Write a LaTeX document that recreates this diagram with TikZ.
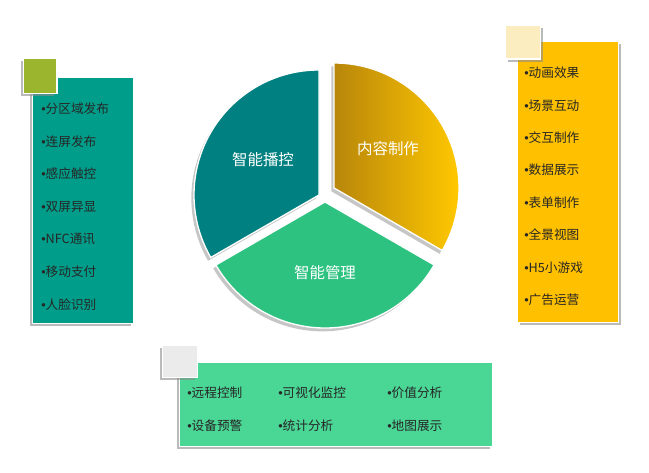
\documentclass[tikz,border=0pt]{standalone}
\usepackage{fontspec}
\setmainfont{Noto Sans CJK SC}
\newfontfamily\latinfont{Liberation Sans}
\newcommand{\bul}{{\latinfont •}}
\usetikzlibrary{positioning, shadows}

\definecolor{tealbox}{RGB}{0,158,138}
\definecolor{olivetag}{RGB}{155,181,47}
\definecolor{goldbox}{RGB}{255,192,0}
\definecolor{creamtag}{RGB}{252,237,192}
\definecolor{mintbox}{RGB}{74,214,149}
\definecolor{greytag}{RGB}{235,235,235}
\definecolor{tealpie}{RGB}{0,128,128}
\definecolor{greenpie}{RGB}{45,194,128}
\definecolor{golddark}{RGB}{184,134,11}
\definecolor{goldlight}{RGB}{255,200,0}

\begin{document}
\begin{tikzpicture}[x=0.75pt, y=0.75pt]
    \tikzstyle{panel}=[draw=white, line width=1pt, rectangle, inner sep=0pt, anchor=north west]
    \tikzstyle{shadowleft}=[drop shadow={shadow xshift=-2pt, shadow yshift=-2pt, fill=black!45, opacity=.6}]
    \tikzstyle{shadowright}=[drop shadow={shadow xshift=2pt, shadow yshift=-2pt, fill=black!45, opacity=.6}]
    \tikzstyle{sector}=[draw=white, line width=1pt, drop shadow={shadow xshift=-2pt, shadow yshift=-2.5pt, fill=black!50, opacity=.45}]
    \tikzstyle{item}=[inner sep=0pt, anchor=west, text=black!85, font=\fontsize{9.5}{11}\selectfont]
    \tikzstyle{label}=[text=white, font=\fontsize{11.6}{14}\selectfont]

    \useasboundingbox (0,0) rectangle (649,473);

    % pie
    \path[sector, left color=golddark, right color=goldlight] (334,285) -- ++(90:125) arc[start angle=90, end angle=-30, radius=125] -- cycle;
    \path[sector, fill=tealpie] (319,278) -- ++(90:125) arc[start angle=90, end angle=210, radius=125] -- cycle;
    \path[sector, fill=greenpie] (325,271) -- ++(210:126) arc[start angle=210, end angle=330, radius=126] -- cycle;

    \node[label] (play) at (263,313) {智能播控};
    \node[label] (make) at (388,324) {内容制作};
    \node[label] (manage) at (325,200) {智能管理};

    % left list
    \node[panel, shadowleft, fill=tealbox, minimum width=75.75pt, minimum height=184.5pt] (leftbox) at (32,396) {};
    \node[panel, shadowleft, fill=olivetag, minimum width=25pt, minimum height=26pt] (lefttag) at (23,415) {};

    \node[item, below right=24pt and 6.75pt of leftbox.north west, anchor=west] (l1) {\bul{}分区域发布};
    \node[item, below=24.4pt of l1.west, anchor=west] (l2) {\bul{}连屏发布};
    \node[item, below=24.4pt of l2.west, anchor=west] (l3) {\bul{}感应触控};
    \node[item, below=24.4pt of l3.west, anchor=west] (l4) {\bul{}双屏异显};
    \node[item, below=24.4pt of l4.west, anchor=west] (l5) {\bul{}NFC通讯};
    \node[item, below=24.4pt of l5.west, anchor=west] (l6) {\bul{}移动支付};
    \node[item, below=24.4pt of l6.west, anchor=west] (l7) {\bul{}人脸识别};

    % right list
    \node[panel, shadowright, fill=goldbox, minimum width=75.75pt, minimum height=210.75pt] (rightbox) at (517,432) {};
    \node[panel, shadowright, fill=creamtag, minimum width=26pt, minimum height=25pt] (righttag) at (505,448) {};

    \node[item, below right=24pt and 5.25pt of rightbox.north west, anchor=west] (r1) {\bul{}动画效果};
    \node[item, below=24.3pt of r1.west, anchor=west] (r2) {\bul{}场景互动};
    \node[item, below=24.3pt of r2.west, anchor=west] (r3) {\bul{}交互制作};
    \node[item, below=24.3pt of r3.west, anchor=west] (r4) {\bul{}数据展示};
    \node[item, below=24.3pt of r4.west, anchor=west] (r5) {\bul{}表单制作};
    \node[item, below=24.3pt of r5.west, anchor=west] (r6) {\bul{}全景视图};
    \node[item, below=24.3pt of r6.west, anchor=west] (r7) {\bul{}H5小游戏};
    \node[item, below=24.3pt of r7.west, anchor=west] (r8) {\bul{}广告运营};

    % bottom list
    \node[panel, shadowleft, fill=mintbox, minimum width=234.75pt, minimum height=63pt] (bottombox) at (179,111) {};
    \node[panel, shadowleft, fill=greytag, minimum width=26pt, minimum height=24pt] (bottomtag) at (162,128) {};

    \node[item, below right=23.25pt and 6pt of bottombox.north west, anchor=west] (b1) {\bul{}远程控制};
    \node[item, right=68.25pt of b1.west, anchor=west] (b2) {\bul{}可视化监控};
    \node[item, right=150pt of b1.west, anchor=west] (b3) {\bul{}价值分析};
    \node[item, below=24.75pt of b1.west, anchor=west] (b4) {\bul{}设备预警};
    \node[item, below=24.75pt of b2.west, anchor=west] (b5) {\bul{}统计分析};
    \node[item, below=24.75pt of b3.west, anchor=west] (b6) {\bul{}地图展示};
\end{tikzpicture}
\end{document}
